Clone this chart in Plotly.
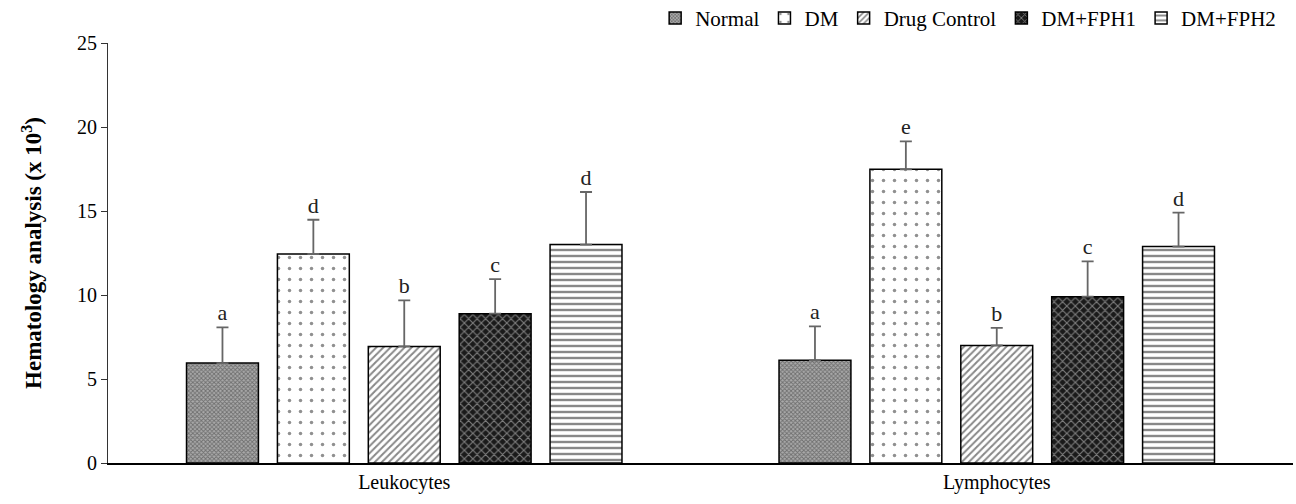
import plotly.graph_objects as go

categories = ["Leukocytes", "Lymphocytes"]
groups = ["Normal", "DM", "Drug Control", "DM+FPH1", "DM+FPH2"]

normal_vals = [5.95, 6.11]
dm_vals = [12.44, 17.48]
drug_vals = [6.94, 7.0]
fph1_vals = [8.89, 9.9]
fph2_vals = [13.0, 12.88]

normal_err = [2.12, 2.02]
dm_err = [2.04, 1.66]
drug_err = [2.74, 1.04]
fph1_err = [2.06, 2.1]
fph2_err = [3.13, 2.02]

normal_letters = ["a", "a"]
dm_letters = ["d", "e"]
drug_letters = ["b", "b"]
fph1_letters = ["c", "c"]
fph2_letters = ["d", "d"]

y_ticks = [0, 5, 10, 15, 20, 25]

series = [
    (groups[0], normal_vals, normal_err, normal_letters,
     dict(shape="x", size=3, solidity=0.5, fgcolor="#333333", bgcolor="#aaaaaa")),
    (groups[1], dm_vals, dm_err, dm_letters,
     dict(shape=".", size=11, solidity=0.08, fgcolor="#222222", bgcolor="white")),
    (groups[2], drug_vals, drug_err, drug_letters,
     dict(shape="/", size=5, solidity=0.4, fgcolor="#111111", bgcolor="white")),
    (groups[3], fph1_vals, fph1_err, fph1_letters,
     dict(shape="x", size=6, solidity=0.35, fgcolor="#dddddd", bgcolor="#1a1a1a")),
    (groups[4], fph2_vals, fph2_err, fph2_letters,
     dict(shape="-", size=6, solidity=0.4, fgcolor="#111111", bgcolor="white")),
]

FONT = "Liberation Serif, Times New Roman, serif"

fig = go.Figure()
for i, (name, vals, errs, letters, pat) in enumerate(series):
    fig.add_trace(go.Bar(
        name=name, x=categories, y=vals,
        offsetgroup=str(i),
        marker=dict(color="white", pattern=pat,
                    line=dict(color="black", width=1.5)),
        error_y=dict(type="data", symmetric=False, array=errs,
                     arrayminus=[0] * len(errs), color="#666666",
                     thickness=1.8, width=6),
    ))
for i, (name, vals, errs, letters, pat) in enumerate(series):
    fig.add_trace(go.Scatter(
        x=categories, y=[v + e for v, e in zip(vals, errs)],
        text=letters, mode="markers+text", textposition="top center",
        marker=dict(size=1, color="rgba(0,0,0,0)"),
        textfont=dict(family=FONT, size=22, color="#222222"),
        offsetgroup=str(i), showlegend=False, hoverinfo="skip",
    ))

fig.update_layout(
    width=1296, height=504,
    margin=dict(l=108, r=3, t=43, b=41, autoexpand=False),
    paper_bgcolor="white", plot_bgcolor="white",
    barmode="group", bargap=0.233, bargroupgap=0.209,
    scattermode="group", scattergap=0.233,
    font=dict(family=FONT, size=19, color="black"),
    showlegend=True,
    legend=dict(orientation="h", x=0.99, xanchor="right", y=1.01, yanchor="bottom",
                font=dict(family=FONT, size=21, color="black"),
                traceorder="normal", itemwidth=30,
                bgcolor="rgba(0,0,0,0)"),
    xaxis=dict(showline=True, linecolor="black", linewidth=1.5, ticks="",
               tickfont=dict(family=FONT, size=20), showgrid=False, zeroline=False),
    yaxis=dict(range=[0, 25], tickvals=y_ticks, showline=True, linecolor="#333333",
               linewidth=1, ticks="outside", ticklen=6, tickcolor="#333333",
               tickfont=dict(family=FONT, size=20), showgrid=False, zeroline=False,
               title=dict(text="<b>Hematology analysis (x 10<sup>3</sup>)</b>",
                          font=dict(family=FONT, size=23), standoff=28)),
)

fig.write_html("out.html")
